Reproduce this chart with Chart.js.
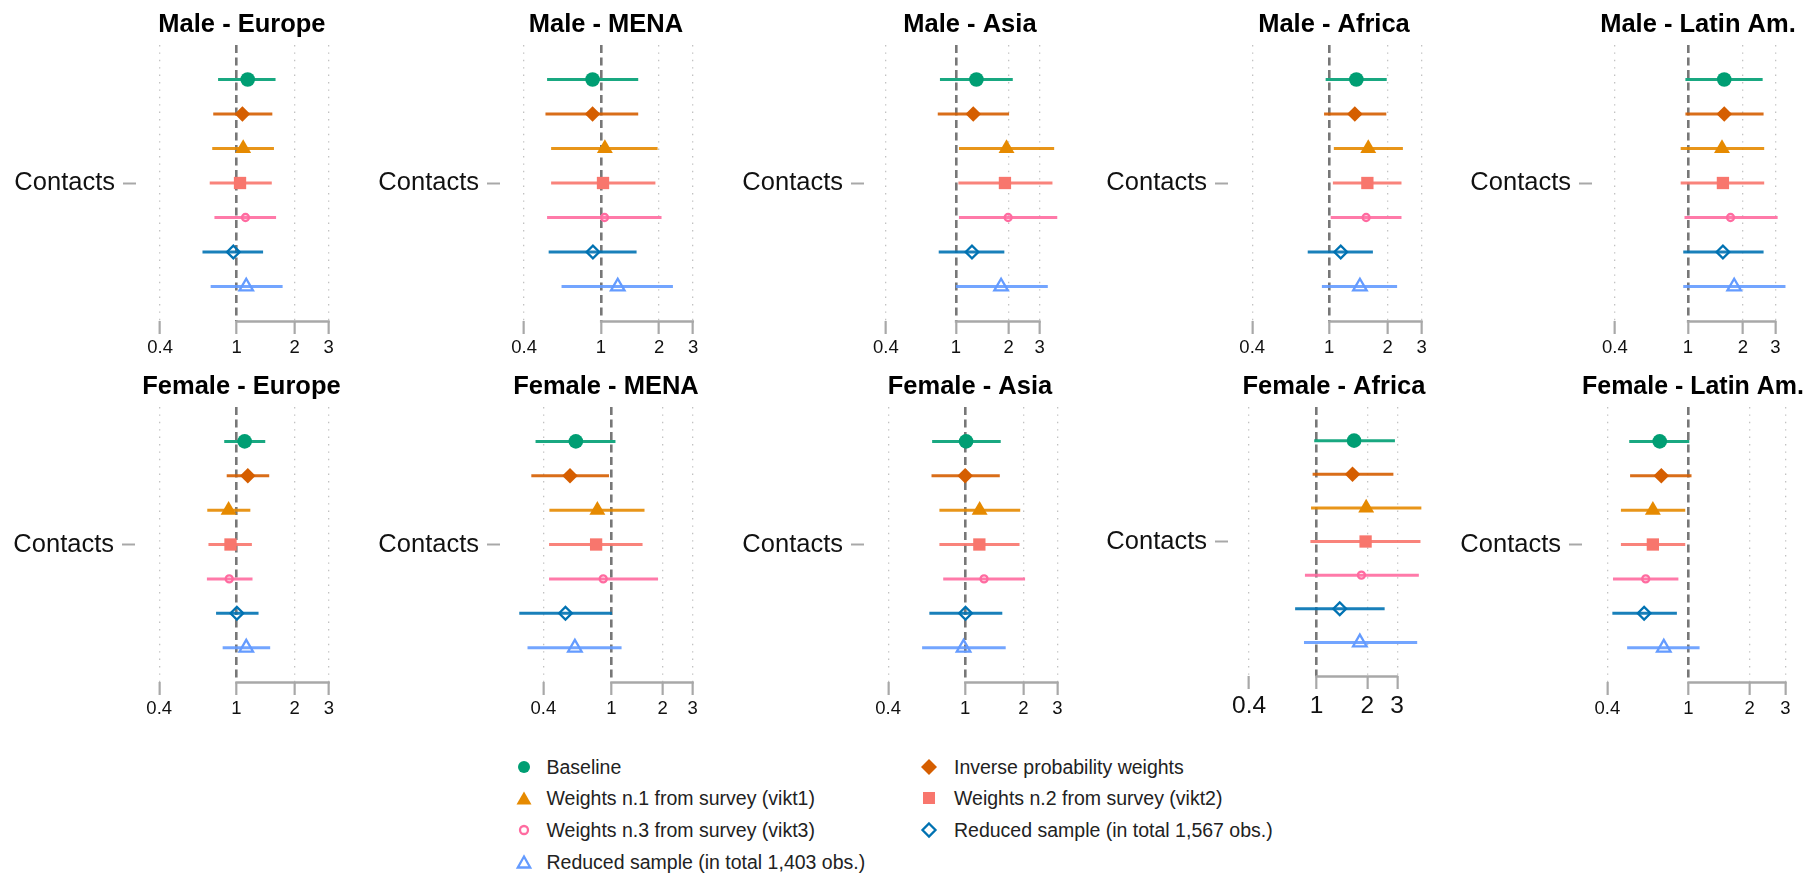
<!DOCTYPE html>
<html lang="en">
<head>
<meta charset="UTF-8">
<title>Contacts by sex and region</title>
<script src="https://cdn.jsdelivr.net/npm/chart.js"></script>
<style>
  body { margin: 0; background: #fff; font-family: Helvetica, "Liberation Sans", Arial, sans-serif; }
  #wrap { position: relative; width: 1814px; height: 875px; overflow: hidden; background: #fff; }
  #wrap canvas { position: absolute; }
  .legend-item { position: absolute; height: 24px; line-height: 24px; font-size: 19.5px; color: #222; white-space: nowrap; }
  .legend-item svg { position: absolute; }
</style>
</head>
<body>
<div id="wrap"></div>
<script>
// ---- data (odds ratios with 95% CI) ----
const regions = ['Europe', 'MENA', 'Asia', 'Africa', 'Latin Am.'];
const sexes = ['Male', 'Female'];
const rowLabel = 'Contacts';
const tickValues = [0.4, 1, 2, 3];
const methods = [
    'Baseline',
    'Inverse probability weights',
    'Weights n.1 from survey (vikt1)',
    'Weights n.2 from survey (vikt2)',
    'Weights n.3 from survey (vikt3)',
    'Reduced sample (in total 1,567 obs.)',
    'Reduced sample (in total 1,403 obs.)'
];

// one row per region, one value per method
const maleEst = [
    [1.14, 1.07, 1.08, 1.04, 1.11, 0.96, 1.12],
    [0.905, 0.905, 1.048, 1.025, 1.044, 0.909, 1.222],
    [1.31, 1.257, 1.944, 1.904, 1.985, 1.236, 1.81],
    [1.38, 1.355, 1.59, 1.573, 1.55, 1.146, 1.44],
    [1.58, 1.58, 1.536, 1.554, 1.71, 1.554, 1.79]
];
const maleLo = [
    [0.80, 0.755, 0.746, 0.724, 0.766, 0.664, 0.732],
    [0.526, 0.516, 0.552, 0.552, 0.526, 0.536, 0.625],
    [0.812, 0.789, 1.042, 1.034, 1.042, 0.799, 1.0],
    [0.958, 0.94, 1.056, 1.044, 1.017, 0.774, 0.916],
    [0.97, 0.97, 0.914, 0.914, 0.959, 0.944, 0.944]
];
const maleHi = [
    [1.59, 1.53, 1.56, 1.52, 1.60, 1.37, 1.73],
    [1.56, 1.56, 1.966, 1.915, 2.06, 1.53, 2.36],
    [2.11, 2.01, 3.63, 3.55, 3.78, 1.889, 3.34],
    [1.98, 1.97, 2.40, 2.36, 2.36, 1.68, 2.24],
    [2.56, 2.59, 2.61, 2.61, 3.09, 2.59, 3.41]
];
const femaleEst = [
    [1.104, 1.146, 0.912, 0.933, 0.919, 1.006, 1.125],
    [0.62, 0.573, 0.829, 0.815, 0.897, 0.539, 0.612],
    [1.011, 1.0, 1.188, 1.184, 1.252, 1.004, 0.981],
    [1.669, 1.634, 1.968, 1.952, 1.844, 1.373, 1.805],
    [0.723, 0.736, 0.669, 0.669, 0.617, 0.606, 0.757]
];
const femaleLo = [
    [0.866, 0.892, 0.708, 0.718, 0.705, 0.786, 0.85],
    [0.36, 0.34, 0.434, 0.432, 0.432, 0.289, 0.323],
    [0.675, 0.67, 0.736, 0.736, 0.77, 0.653, 0.599],
    [0.97, 0.949, 0.929, 0.921, 0.855, 0.748, 0.844],
    [0.512, 0.517, 0.466, 0.466, 0.426, 0.423, 0.50]
];
const femaleHi = [
    [1.41, 1.478, 1.181, 1.203, 1.212, 1.302, 1.495],
    [1.058, 0.97, 1.566, 1.525, 1.88, 1.009, 1.149],
    [1.527, 1.51, 1.926, 1.91, 2.04, 1.556, 1.62],
    [2.91, 2.85, 4.17, 4.12, 4.03, 2.53, 3.94],
    [1.01, 1.036, 0.965, 0.965, 0.893, 0.878, 1.135]
];

// ---- styling ----
const FONT = 'Helvetica, "Liberation Sans", Arial, sans-serif';
const colors = ['#009E73', '#D55E00', '#E68A00', '#F8766D', '#FF6BA0', '#0072B2', '#649BFF'];
const markers = [
    { style: 'circle',   r: 7.3, fill: true },
    { style: 'rectRot',  r: 7.8, fill: true },
    { style: 'triangle', r: 9.2, fill: true },
    { style: 'rect',     r: 8.7, fill: true },
    { style: 'circle',   r: 3.5, fill: false },
    { style: 'rectRot',  r: 6.4, fill: false },
    { style: 'triangle', r: 7.8, fill: false }
];

// panel boxes in page pixels: plot left, plot right, pixel of x=1, pixels per log unit
const panelBoxes = [
    [136, 355, 237.0, 88.83],
    [500, 719, 601.2, 89.0],
    [864, 1083, 956.7, 80.23],
    [1228, 1447, 1329.5, 89.33],
    [1592, 1811, 1689.2, 83.53],
    [135, 355, 236.8, 89.17],
    [500, 719, 615.0, 76.6],
    [864, 1083, 965.7, 89.0],
    [1228, 1447, 1318.0, 76.77],
    [1582, 1811, 1687.3, 94.63]
];
const Y_AXIS_W = 136;
const TITLE_H = 45;

// axis line only spans 1..3, like the original
const capAxis = {
    id: 'capAxis',
    beforeDatasetsDraw(chart) {
        const xs = chart.scales.x;
        const ctx = chart.ctx;
        const y = chart.chartArea.bottom + 0.5;
        ctx.save();
        ctx.strokeStyle = '#a8a8a8';
        ctx.lineWidth = 2.4;
        ctx.beginPath();
        ctx.moveTo(xs.getPixelForValue(1) - 1, y);
        ctx.lineTo(xs.getPixelForValue(3) + 1, y);
        ctx.stroke();
        ctx.restore();
    }
};

const wrap = document.getElementById('wrap');

function makePanel(idx, title, est, lo, hi) {
    const [pl, pr, x1, k] = panelBoxes[idx];
    const isFemale = idx >= 5;
    const bigTicks = idx === 8;
    const canvasTop = isFemale ? 362 : 0;
    const plotBottom = isFemale ? (bigTicks ? 676 : 682) : 321;
    const axisH = bigTicks ? 60 : 50;
    const canvasLeft = Math.round(pl) - Y_AXIS_W;
    const plotLeft = canvasLeft + Y_AXIS_W;
    const plotRight = Math.round(pr);
    const canvasW = plotRight - canvasLeft + 3;
    const canvasH = plotBottom - canvasTop + axisH;

    const c = document.createElement('canvas');
    c.width = canvasW;
    c.height = canvasH;
    c.style.left = canvasLeft + 'px';
    c.style.top = canvasTop + 'px';
    wrap.appendChild(c);

    const datasets = [];
    methods.forEach((m, i) => {
        const mk = markers[i];
        datasets.push({
            label: m,
            data: [{ x: est[i], y: i + 1 }],
            pointStyle: mk.style,
            pointRadius: mk.r,
            backgroundColor: mk.fill ? colors[i] : 'rgba(0,0,0,0)',
            borderColor: colors[i],
            borderWidth: mk.fill ? 0 : 2.3,
            order: 1
        });
        datasets.push({
            label: m + ' CI',
            data: [{ x: lo[i], y: i + 1 }, { x: hi[i], y: i + 1 }],
            showLine: true,
            borderColor: colors[i] + 'E6',
            borderWidth: 3,
            pointRadius: 0,
            order: 2
        });
    });

    new Chart(c, {
        type: 'scatter',
        data: { datasets },
        options: {
            responsive: false,
            animation: false,
            events: [],
            layout: { padding: { right: 3 } },
            plugins: {
                legend: { display: false },
                tooltip: { enabled: false },
                title: {
                    display: true,
                    text: title,
                    fullSize: false,
                    align: 'center',
                    color: '#000',
                    font: { family: FONT, size: 25.5, weight: 'bold' },
                    padding: { top: 9.2, bottom: TITLE_H - 30.6 - 9.2 }
                }
            },
            scales: {
                x: {
                    type: 'logarithmic',
                    min: Math.exp((plotLeft - x1) / k),
                    max: Math.exp((plotRight - x1) / k),
                    afterBuildTicks: s => { s.ticks = tickValues.map(v => ({ value: v })); },
                    afterFit: s => { s.height = axisH; },
                    ticks: {
                        autoSkip: false,
                        maxRotation: 0,
                        padding: 3,
                        color: '#111',
                        font: { family: FONT, size: bigTicks ? 24.5 : 18.5 },
                        callback: v => String(v)
                    },
                    grid: {
                        color: ctx => (ctx.tick && ctx.tick.value === 1) ? '#777777' : '#c2c2c2',
                        lineWidth: ctx => (ctx.tick && ctx.tick.value === 1) ? 2.6 : 1.3,
                        drawTicks: true,
                        tickLength: 13,
                        tickColor: '#a8a8a8',
                        tickWidth: 2.2
                    },
                    border: {
                        display: false,
                        dash: ctx => (ctx.tick && ctx.tick.value === 1) ? [8, 4.5] : [1.4, 6]
                    }
                },
                y: {
                    type: 'linear',
                    min: 0,
                    max: 8,
                    reverse: true,
                    afterBuildTicks: s => { s.ticks = [{ value: 4 }]; },
                    afterFit: s => { s.width = Y_AXIS_W; },
                    ticks: {
                        autoSkip: false,
                        padding: 8,
                        color: '#111',
                        font: { family: FONT, size: 25.5 },
                        callback: () => rowLabel
                    },
                    grid: {
                        drawOnChartArea: false,
                        drawTicks: true,
                        tickLength: 13,
                        tickColor: '#a8a8a8',
                        tickWidth: 2
                    },
                    border: { display: false }
                }
            }
        },
        plugins: [capAxis]
    });
}

sexes.forEach((sex, s) => {
    const est = s === 0 ? maleEst : femaleEst;
    const lo = s === 0 ? maleLo : femaleLo;
    const hi = s === 0 ? maleHi : femaleHi;
    regions.forEach((reg, r) => {
        makePanel(s * 5 + r, sex + ' - ' + reg, est[r], lo[r], hi[r]);
    });
});

// ---- legend (two columns below the panels) ----
function markerSvg(i) {
    const col = colors[i];
    let shape = '';
    switch (i) {
        case 0: shape = `<circle cx="10" cy="10" r="6" fill="${col}"/>`; break;
        case 1: shape = `<polygon points="10,2 18,10 10,18 2,10" fill="${col}"/>`; break;
        case 2: shape = `<polygon points="10,3.5 17.5,16.5 2.5,16.5" fill="${col}"/>`; break;
        case 3: shape = `<rect x="4" y="4" width="12" height="12" fill="${col}"/>`; break;
        case 4: shape = `<circle cx="10" cy="10" r="4" fill="none" stroke="${col}" stroke-width="2.3"/>`; break;
        case 5: shape = `<polygon points="10,3.5 16.5,10 10,16.5 3.5,10" fill="none" stroke="${col}" stroke-width="2.3"/>`; break;
        case 6: shape = `<polygon points="10,4.5 16.2,15.5 3.8,15.5" fill="none" stroke="${col}" stroke-width="2.3"/>`; break;
    }
    return `<svg width="20" height="20" viewBox="0 0 20 20">${shape}</svg>`;
}

const legendRows = [766.5, 798.2, 829.9, 861.6];
const legendCols = [{ mx: 523.5, tx: 546.5, items: [0, 2, 4, 6] },
                    { mx: 929, tx: 954, items: [1, 3, 5] }];
legendCols.forEach(colDef => {
    colDef.items.forEach((mi, r) => {
        const y = legendRows[r];
        const item = document.createElement('div');
        item.className = 'legend-item';
        item.style.left = colDef.tx + 'px';
        item.style.top = (y - 12) + 'px';
        item.innerHTML = markerSvg(mi).replace('<svg', `<svg style="left:${colDef.mx - colDef.tx - 10}px;top:2px"`) +
            '<span>' + methods[mi] + '</span>';
        wrap.appendChild(item);
    });
});
</script>
</body>
</html>
